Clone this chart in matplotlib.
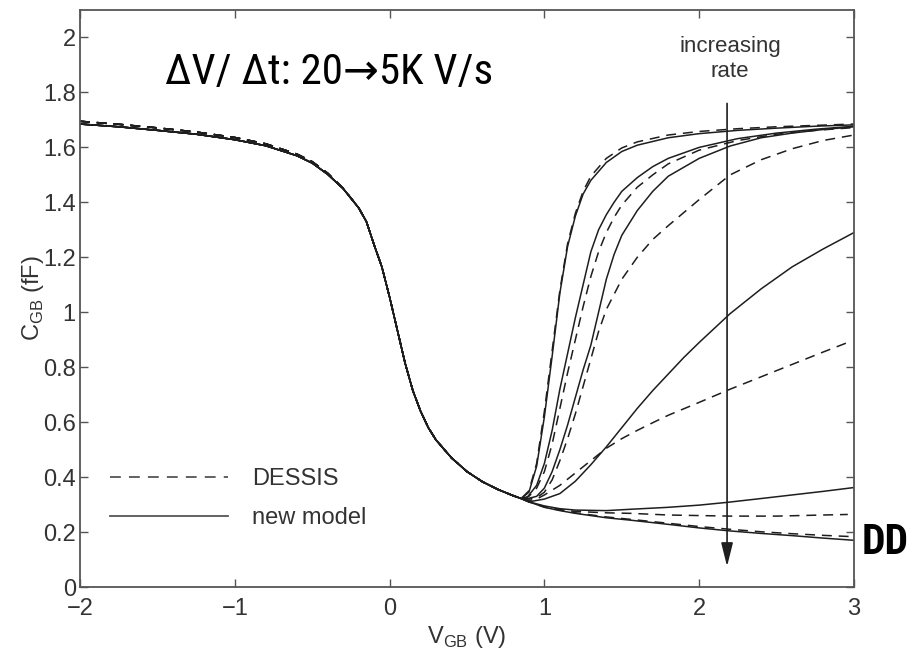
import matplotlib
matplotlib.use("Agg")
import matplotlib.pyplot as plt
from matplotlib import font_manager
import numpy as np

# ---- shared part of the C-V sweep (accumulation -> depletion) ----
v_base = [-2.0, -1.75, -1.5, -1.25, -1.0, -0.8, -0.6, -0.5, -0.4, -0.3, -0.2,
          -0.15, -0.1, -0.05, 0.0, 0.05, 0.1, 0.15, 0.2, 0.25, 0.3, 0.4, 0.5,
          0.6, 0.7, 0.8, 0.85]
c_base_model = [1.685, 1.675, 1.662, 1.648, 1.628, 1.606, 1.570, 1.543, 1.502,
                1.450, 1.380, 1.330, 1.245, 1.165, 1.055, 0.935, 0.815, 0.715,
                0.640, 0.580, 0.535, 0.470, 0.420, 0.383, 0.355, 0.332, 0.322]
c_base_dessis = [1.695, 1.684, 1.671, 1.656, 1.636, 1.613, 1.576, 1.548, 1.506,
                 1.451, 1.380, 1.330, 1.245, 1.165, 1.055, 0.935, 0.815, 0.715,
                 0.640, 0.580, 0.535, 0.470, 0.420, 0.383, 0.355, 0.332, 0.322]

# ---- branches above threshold, one per sweep rate (slow -> fast) ----
# new model (solid)
v_s1 = [0.9, 0.95, 1.0, 1.05, 1.1, 1.15, 1.2, 1.25, 1.3, 1.4, 1.5, 1.6, 1.8, 2.0, 2.25, 2.5, 2.75, 3.0]
c_s1 = [0.345, 0.44, 0.62, 0.84, 1.07, 1.24, 1.35, 1.43, 1.48, 1.545, 1.585, 1.608, 1.635, 1.65, 1.662, 1.67, 1.677, 1.682]
v_s2 = [0.88, 0.95, 1.0, 1.05, 1.1, 1.15, 1.2, 1.25, 1.3, 1.35, 1.4, 1.45, 1.5, 1.6, 1.7, 1.8, 2.0, 2.25, 2.5, 2.75, 3.0]
c_s2 = [0.32, 0.37, 0.45, 0.57, 0.72, 0.85, 0.98, 1.10, 1.22, 1.30, 1.355, 1.40, 1.44, 1.49, 1.53, 1.56, 1.60, 1.632, 1.652, 1.666, 1.677]
v_s3 = [0.88, 0.95, 1.0, 1.05, 1.1, 1.15, 1.2, 1.25, 1.3, 1.35, 1.4, 1.45, 1.5, 1.6, 1.7, 1.8, 2.0, 2.2, 2.4, 2.6, 2.8, 3.0]
c_s3 = [0.32, 0.33, 0.36, 0.42, 0.50, 0.59, 0.69, 0.79, 0.88, 1.0, 1.12, 1.21, 1.28, 1.37, 1.44, 1.495, 1.56, 1.605, 1.635, 1.652, 1.665, 1.675]
v_s4 = [0.9, 1.0, 1.1, 1.2, 1.3, 1.4, 1.5, 1.6, 1.7, 1.8, 1.9, 2.0, 2.2, 2.4, 2.6, 2.8, 3.0]
c_s4 = [0.31, 0.32, 0.34, 0.385, 0.445, 0.51, 0.58, 0.65, 0.715, 0.775, 0.835, 0.89, 0.995, 1.085, 1.165, 1.23, 1.29]
v_s5 = [0.9, 1.0, 1.1, 1.2, 1.4, 1.56, 1.8, 2.0, 2.18, 2.4, 2.6, 2.8, 3.0]
c_s5 = [0.31, 0.295, 0.285, 0.28, 0.278, 0.283, 0.29, 0.298, 0.308, 0.322, 0.335, 0.348, 0.362]
v_s6 = [0.9, 1.0, 1.1, 1.2, 1.4, 1.56, 1.8, 2.0, 2.2, 2.4, 2.6, 2.8, 3.0]
c_s6 = [0.31, 0.29, 0.278, 0.268, 0.252, 0.243, 0.228, 0.215, 0.204, 0.195, 0.187, 0.178, 0.17]

# DESSIS (dashed)
v_d1 = [0.9, 0.95, 1.0, 1.05, 1.1, 1.15, 1.2, 1.25, 1.3, 1.4, 1.5, 1.6, 1.8, 2.0, 2.25, 2.5, 2.75, 3.0]
c_d1 = [0.35, 0.45, 0.64, 0.86, 1.08, 1.25, 1.36, 1.44, 1.495, 1.56, 1.598, 1.62, 1.645, 1.658, 1.668, 1.675, 1.68, 1.685]
v_d2 = [0.9, 0.95, 1.0, 1.05, 1.1, 1.15, 1.2, 1.25, 1.3, 1.35, 1.4, 1.45, 1.5, 1.6, 1.7, 1.8, 2.0, 2.25, 2.5, 2.75, 3.0]
c_d2 = [0.33, 0.36, 0.42, 0.52, 0.65, 0.78, 0.90, 1.02, 1.13, 1.22, 1.29, 1.345, 1.39, 1.455, 1.50, 1.54, 1.59, 1.625, 1.648, 1.662, 1.672]
v_d3 = [0.9, 0.95, 1.0, 1.05, 1.1, 1.15, 1.2, 1.25, 1.3, 1.35, 1.4, 1.5, 1.6, 1.7, 1.8, 2.0, 2.2, 2.4, 2.6, 2.8, 3.0]
c_d3 = [0.32, 0.325, 0.345, 0.39, 0.46, 0.54, 0.63, 0.73, 0.83, 0.93, 1.01, 1.12, 1.20, 1.265, 1.315, 1.41, 1.50, 1.555, 1.595, 1.625, 1.645]
v_d4 = [0.9, 0.95, 1.0, 1.1, 1.2, 1.3, 1.4, 1.5, 1.6, 1.7, 1.8, 2.0, 2.2, 2.4, 2.6, 2.8, 2.96]
c_d4 = [0.315, 0.32, 0.335, 0.37, 0.415, 0.46, 0.505, 0.54, 0.57, 0.598, 0.625, 0.672, 0.72, 0.765, 0.81, 0.855, 0.89]
v_d5 = [0.9, 1.0, 1.1, 1.2, 1.4, 1.56, 1.8, 2.0, 2.2, 2.5, 2.8, 2.96]
c_d5 = [0.31, 0.293, 0.282, 0.275, 0.27, 0.268, 0.262, 0.26, 0.258, 0.258, 0.262, 0.264]
v_d6 = [0.9, 1.0, 1.1, 1.2, 1.4, 1.56, 1.8, 2.0, 2.2, 2.4, 2.6, 2.8, 3.0]
c_d6 = [0.31, 0.291, 0.28, 0.27, 0.255, 0.246, 0.232, 0.22, 0.21, 0.201, 0.194, 0.188, 0.183]

x_ticks = [-2, -1, 0, 1, 2, 3]
y_ticks = [0, 0.2, 0.4, 0.6, 0.8, 1.0, 1.2, 1.4, 1.6, 1.8, 2.0]
y_tick_labels = ["0", "0.2", "0.4", "0.6", "0.8", "1", "1.2", "1.4", "1.6", "1.8", "2"]

model_branches = [(v_s1, c_s1), (v_s2, c_s2), (v_s3, c_s3), (v_s4, c_s4), (v_s5, c_s5), (v_s6, c_s6)]
dessis_branches = [(v_d1, c_d1), (v_d2, c_d2), (v_d3, c_d3), (v_d4, c_d4), (v_d5, c_d5), (v_d6, c_d6)]

plt.rcParams["font.family"] = ["Liberation Sans", "DejaVu Sans"]
txt_col = "#333333"
line_col = "#1e1e1e"
fs = 17


def narrow_family():
    """Pick a condensed sans family if one is installed, else Arial-like."""
    for fam in ["Liberation Sans Narrow", "Roboto Condensed", "Open Sans Condensed",
                "Noto Sans Condensed", "Arial Narrow"]:
        try:
            font_manager.findfont(font_manager.FontProperties(family=fam),
                                  fallback_to_default=False)
            return fam, True
        except Exception:
            continue
    return "Liberation Sans", False


nfam, is_narrow = narrow_family()
big_fs = 31 if is_narrow else 28
dd_fs = 30 if is_narrow else 23

fig = plt.figure(figsize=(9.12, 6.55), dpi=100)
ax = fig.add_axes([80 / 912, 68 / 655, 774 / 912, 577 / 655])

for vb, cb in model_branches:
    ax.plot(v_base + vb, c_base_model + cb, color=line_col, lw=1.1, solid_capstyle="butt")
for vb, cb in dessis_branches:
    ax.plot(v_base + vb, c_base_dessis + cb, color=line_col, lw=1.1, dashes=(6.5, 4.5))

# legend entries
h_d, = ax.plot([], [], color="#555555", lw=1.3, dashes=(6, 4.5), label="DESSIS")
h_s, = ax.plot([], [], color="#555555", lw=1.3, label="new model")
ax.legend(handles=[h_d, h_s], loc="center left", bbox_to_anchor=(0.039, 0.153),
          frameon=False, fontsize=fs, handlelength=5.0, handletextpad=1.0,
          labelspacing=0.7, borderpad=0, borderaxespad=0, labelcolor=txt_col)

ax.set_xlim(-2, 3)
ax.set_ylim(0, 2.1)
ax.set_xticks(x_ticks)
ax.set_yticks(y_ticks)
ax.set_yticklabels(y_tick_labels)
ax.tick_params(direction="in", length=6, width=1.0, top=True, right=True,
               labelsize=fs, colors="#555555", labelcolor=txt_col)
ax.tick_params(axis="x", pad=8)
ax.tick_params(axis="y", pad=3)
for sp in ax.spines.values():
    sp.set_color("#555555")
    sp.set_linewidth(1.3)

ax.set_xlabel(r"V$_\mathregular{GB}$ (V)", fontsize=fs, color=txt_col, labelpad=3)
ax.set_ylabel(r"C$_\mathregular{GB}$ (fF)", fontsize=fs, color=txt_col, labelpad=-2)

# sweep-rate arrow
ax.annotate("", xy=(2.18, 0.075), xytext=(2.18, 1.76),
            arrowprops=dict(arrowstyle="-|>,head_length=0.72,head_width=0.18",
                            mutation_scale=20, lw=1.2, color=line_col,
                            shrinkA=0, shrinkB=0))
ax.text(2.2, 1.92, "increasing\nrate", ha="center", va="center", fontsize=fs - 1,
        color=txt_col, linespacing=1.25)

fig.text(165 / 912, (655 - 84) / 655, "\u0394V/ \u0394t: 20\u21925K V/s",
         fontsize=big_fs, family=[nfam, "DejaVu Sans"],
         color="black", ha="left", va="baseline")
fig.text(862 / 912, (655 - 542) / 655, "DD", fontsize=dd_fs, fontweight="bold",
         family=[nfam, "DejaVu Sans"], color="black",
         ha="left", va="center")

fig.savefig("out.png", dpi=100, facecolor="white")
